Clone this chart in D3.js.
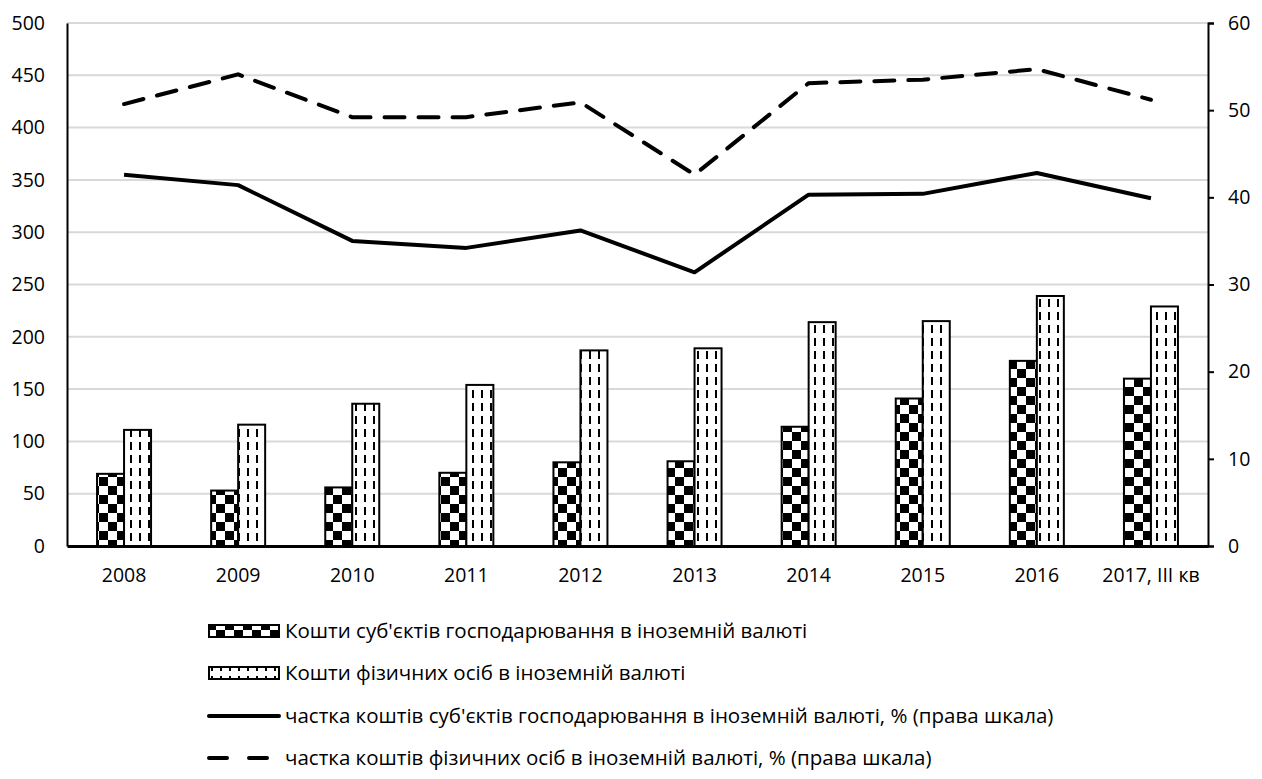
<!DOCTYPE html>
<html>
<head>
<meta charset="utf-8">
<script src="https://cdn.jsdelivr.net/npm/d3@7"></script>
<style>
  body { margin: 0; background: #fff; }
  svg text { font-family: "Open Sans", "Noto Sans", sans-serif; fill: #000; }
</style>
</head>
<body>
<div id="chart"></div>
<script>
// categories and series
const years = ["2008", "2009", "2010", "2011", "2012", "2013", "2014", "2015", "2016", "2017, III кв"];
const businessFx = [69, 53, 56, 70, 80, 81, 114, 141, 177, 160];
const householdFx = [111, 116, 136, 154, 187, 189, 214, 215, 239, 229];
const businessShare = [42.6, 41.4, 35.0, 34.2, 36.2, 31.4, 40.3, 40.4, 42.8, 39.9];
const householdShare = [50.7, 54.1, 49.2, 49.2, 50.9, 42.6, 53.1, 53.5, 54.7, 51.2];
const leftTicks = [0, 50, 100, 150, 200, 250, 300, 350, 400, 450, 500];
const rightTicks = [0, 10, 20, 30, 40, 50, 60];
const legendLabels = [
  "Кошти суб'єктів господарювання в іноземній валюті",
  "Кошти фізичних осіб в іноземній валюті",
  "частка коштів суб'єктів господарювання в іноземній валюті, % (права шкала)",
  "частка коштів фізичних осіб в іноземній валюті, % (права шкала)"
];

const width = 1262, height = 779;
const margin = { top: 23, right: 54, bottom: 233, left: 67 };
const fontSize = "19.5px";
const legendFont = "20.5px";

const svg = d3.select("#chart").append("svg")
  .attr("width", width).attr("height", height);

// patterns
const defs = svg.append("defs");
const checker = defs.append("pattern")
  .attr("id", "checker").attr("patternUnits", "userSpaceOnUse")
  .attr("width", 18).attr("height", 18);
checker.append("rect").attr("width", 18).attr("height", 18).attr("fill", "#fff");
checker.append("rect").attr("width", 9).attr("height", 9).attr("fill", "#000");
checker.append("rect").attr("x", 9).attr("y", 9).attr("width", 9).attr("height", 9).attr("fill", "#000");

const dashes = defs.append("pattern")
  .attr("id", "dashes").attr("patternUnits", "userSpaceOnUse")
  .attr("width", 9).attr("height", 13);
dashes.append("rect").attr("width", 9).attr("height", 13).attr("fill", "#fff");
dashes.append("line").attr("x1", 5).attr("x2", 5).attr("y1", 0).attr("y2", 8)
  .attr("stroke", "#000").attr("stroke-width", 2);

// scales
const x = d3.scaleBand().domain(years)
  .range([margin.left, width - margin.right]);
const yL = d3.scaleLinear().domain([0, 500])
  .range([height - margin.bottom, margin.top]);
const yR = d3.scaleLinear().domain([0, 60])
  .range([height - margin.bottom, margin.top]);

// gridlines
svg.append("g").selectAll("line")
  .data(leftTicks.slice(1))
  .join("line")
  .attr("x1", margin.left).attr("x2", width - margin.right)
  .attr("y1", d => yL(d)).attr("y2", d => yL(d))
  .attr("stroke", "#d9d9d9").attr("stroke-width", 2);

// bars
const barW = 27;
svg.append("g").selectAll("rect")
  .data(years)
  .join("rect")
  .attr("x", d => x(d) + x.bandwidth() / 2 - barW)
  .attr("y", (d, i) => yL(businessFx[i]))
  .attr("width", barW)
  .attr("height", (d, i) => yL(0) - yL(businessFx[i]))
  .attr("fill", "url(#checker)")
  .attr("stroke", "#000").attr("stroke-width", 2);

svg.append("g").selectAll("rect")
  .data(years)
  .join("rect")
  .attr("x", d => x(d) + x.bandwidth() / 2)
  .attr("y", (d, i) => yL(householdFx[i]))
  .attr("width", barW)
  .attr("height", (d, i) => yL(0) - yL(householdFx[i]))
  .attr("fill", "url(#dashes)")
  .attr("stroke", "#000").attr("stroke-width", 2);

// lines on right scale
const line = d3.line()
  .x((d, i) => x(years[i]) + x.bandwidth() / 2)
  .y(d => yR(d));

svg.append("path").datum(businessShare)
  .attr("d", line).attr("fill", "none")
  .attr("stroke", "#000").attr("stroke-width", 4)
  .attr("stroke-linejoin", "round");

svg.append("path").datum(householdShare)
  .attr("d", line).attr("fill", "none")
  .attr("stroke", "#000").attr("stroke-width", 4)
  .attr("stroke-dasharray", "20 14")
  .attr("stroke-linecap", "round");

// axes
const gL = svg.append("g")
  .attr("transform", `translate(${margin.left},0)`)
  .call(d3.axisLeft(yL).tickValues(leftTicks).tickSize(0).tickPadding(22));
gL.select(".domain").attr("stroke", "#000").attr("stroke-width", 2);
gL.selectAll("text").style("font-size", fontSize);

const gR = svg.append("g")
  .attr("transform", `translate(${width - margin.right},0)`)
  .call(d3.axisRight(yR).tickValues(rightTicks).tickSize(6).tickPadding(14));
gR.select(".domain").attr("stroke", "#000").attr("stroke-width", 2);
gR.selectAll(".tick line").attr("stroke", "#000").attr("stroke-width", 2);
gR.selectAll("text").style("font-size", fontSize);

const gX = svg.append("g")
  .attr("transform", `translate(0,${yL(0)})`)
  .call(d3.axisBottom(x).tickSize(0).tickPadding(22));
gX.select(".domain").attr("stroke", "#000").attr("stroke-width", 3);
gX.selectAll("text").style("font-size", fontSize);

// legend
const legendY = [631, 673, 716, 758];
const lg = svg.append("g");
legendY.forEach((ly, i) => {
  if (i < 2) {
    lg.append("rect")
      .attr("x", 209).attr("y", ly - 6).attr("width", 70).attr("height", 12)
      .attr("fill", i === 0 ? "url(#checker)" : "url(#dashes)")
      .attr("stroke", "#000").attr("stroke-width", 2);
  } else {
    lg.append("line")
      .attr("x1", 209).attr("x2", 279).attr("y1", ly).attr("y2", ly)
      .attr("stroke", "#000").attr("stroke-width", 4)
      .attr("stroke-linecap", "round")
      .attr("stroke-dasharray", i === 3 ? "18 22" : null);
  }
  lg.append("text")
    .attr("x", 285).attr("y", ly).attr("dy", "0.35em")
    .style("font-size", legendFont)
    .text(legendLabels[i]);
});
</script>
</body>
</html>
